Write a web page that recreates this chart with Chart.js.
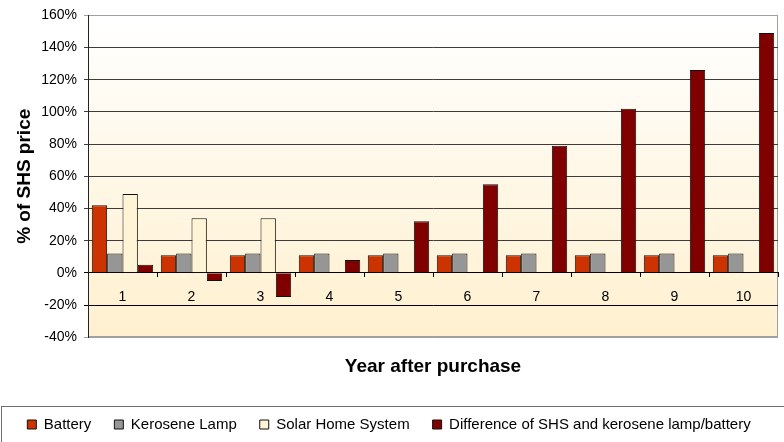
<!DOCTYPE html>
<html>
<head>
<meta charset="utf-8">
<script src="https://cdn.jsdelivr.net/npm/chart.js@4.4.1/dist/chart.umd.min.js"></script>
<style>
    html, body { margin: 0; padding: 0; background: #ffffff; }
    #wrap { position: relative; width: 784px; height: 442px; }
</style>
</head>
<body>
<div id="wrap"><canvas id="shs_chart"></canvas></div>
<script>
"use strict";

// Chart labels
var years = ['1', '2', '3', '4', '5', '6', '7', '8', '9', '10'];

// Series values (% of SHS price)
var battery = [42, 11, 11, 11, 11, 11, 11, 11, 11, 11];
var keroseneLamp = [12, 12, 12, 12, 12, 12, 12, 12, 12, 12];
var solarHomeSystem = [49, 34, 34, 0, 0, 0, 0, 0, 0, 0];
var difference = [5, -5, -15, 8, 32, 55, 79, 102, 126, 149];

// Y axis ticks
var yMin = -40;
var yMax = 160;
var yStep = 20;

// Define colors
var batteryColor = '#cc3300';
var keroseneColor = '#969696';
var solarColor = '#fff4d6';
var differenceColor = '#800000';

var fontFamily = "'Liberation Sans', Arial, sans-serif";

// Plot background + borders, legend frame
var plotFrame = {
    id: 'plotFrame',
    beforeDraw: function (chart) {
        var ctx = chart.ctx;
        var a = chart.chartArea;
        var grad = ctx.createLinearGradient(0, a.top, 0, a.bottom);
        grad.addColorStop(0, '#ffffff');
        grad.addColorStop(1, '#fff0cf');
        ctx.save();
        ctx.fillStyle = grad;
        ctx.fillRect(a.left, a.top, a.right - a.left, a.bottom - a.top);
        ctx.strokeStyle = '#a0a0a0';
        ctx.lineWidth = 1;
        ctx.strokeRect(Math.round(a.left) + 0.5, Math.round(a.top) + 0.5, Math.round(a.right - a.left) - 1, Math.round(a.bottom - a.top) - 1);
        ctx.restore();
    },
    afterDraw: function (chart) {
        var ctx = chart.ctx;
        ctx.save();
        ctx.strokeStyle = '#6e6e6e';
        ctx.lineWidth = 1;
        ctx.strokeRect(1.5, 406.5, chart.width + 10, 60);
        ctx.restore();
    }
};

// Chart data
var data = {
    labels: years,
    datasets: [
        {
            label: 'Battery',
            data: battery,
            backgroundColor: batteryColor,
            borderColor: '#111111',
            borderWidth: 1
        },
        {
            label: 'Kerosene Lamp',
            data: keroseneLamp,
            backgroundColor: keroseneColor,
            borderColor: '#111111',
            borderWidth: 1
        },
        {
            label: 'Solar Home System',
            data: solarHomeSystem,
            backgroundColor: solarColor,
            borderColor: '#111111',
            borderWidth: 1
        },
        {
            label: 'Difference of SHS and kerosene lamp/battery',
            data: difference,
            backgroundColor: differenceColor,
            borderColor: '#111111',
            borderWidth: 1
        }
    ]
};

// Chart config
var config = {
    type: 'bar',
    data: data,
    plugins: [plotFrame],
    options: {
        responsive: true,
        maintainAspectRatio: false,
        animation: false,
        categoryPercentage: 0.89,
        barPercentage: 1.0,
        layout: {
            padding: { top: 15, right: 6, bottom: 0, left: 0 }
        },
        plugins: {
            tooltip: { enabled: false },
            title: {
                display: true,
                text: 'Year after purchase',
                position: 'bottom',
                fullSize: false,
                weight: 500,
                color: '#000000',
                font: { family: fontFamily, size: 19, weight: 'bold' },
                padding: { top: 18, bottom: 16 }
            },
            legend: {
                position: 'bottom',
                labels: {
                    color: '#000000',
                    font: { family: fontFamily, size: 15 },
                    boxWidth: 9,
                    boxHeight: 9,
                    padding: 23
                }
            }
        },
        scales: {
            x: {
                position: { y: 0 },
                grid: {
                    offset: true,
                    drawOnChartArea: false,
                    drawTicks: true,
                    tickLength: 4,
                    color: '#000000'
                },
                border: { display: true, color: '#000000', width: 1 },
                ticks: {
                    color: '#000000',
                    font: { family: fontFamily, size: 14 },
                    padding: 12
                }
            },
            y: {
                min: yMin,
                max: yMax,
                afterFit: function (scale) {
                    scale.width = 88;
                },
                ticks: {
                    stepSize: yStep,
                    color: '#000000',
                    font: { family: fontFamily, size: 14 },
                    padding: 7,
                    callback: function (value) {
                        return value + '%';
                    }
                },
                grid: {
                    tickLength: 4,
                    color: function (c) {
                        if (c.tick.value === yMax || c.tick.value === yMin) {
                            return '#a0a0a0';
                        }
                        if (c.tick.value <= 0) {
                            return '#000000';
                        }
                        return '#3c3c3c';
                    }
                },
                border: { display: true, color: '#222222', width: 1 },
                title: {
                    display: true,
                    text: '% of SHS price',
                    color: '#000000',
                    font: { family: fontFamily, size: 19, weight: 'bold' },
                    padding: { top: 13, bottom: 0 }
                }
            }
        }
    }
};

// Init ChartJS
var ctx = document.getElementById('shs_chart');
var myChart = new Chart(ctx, config);
</script>
</body>
</html>
